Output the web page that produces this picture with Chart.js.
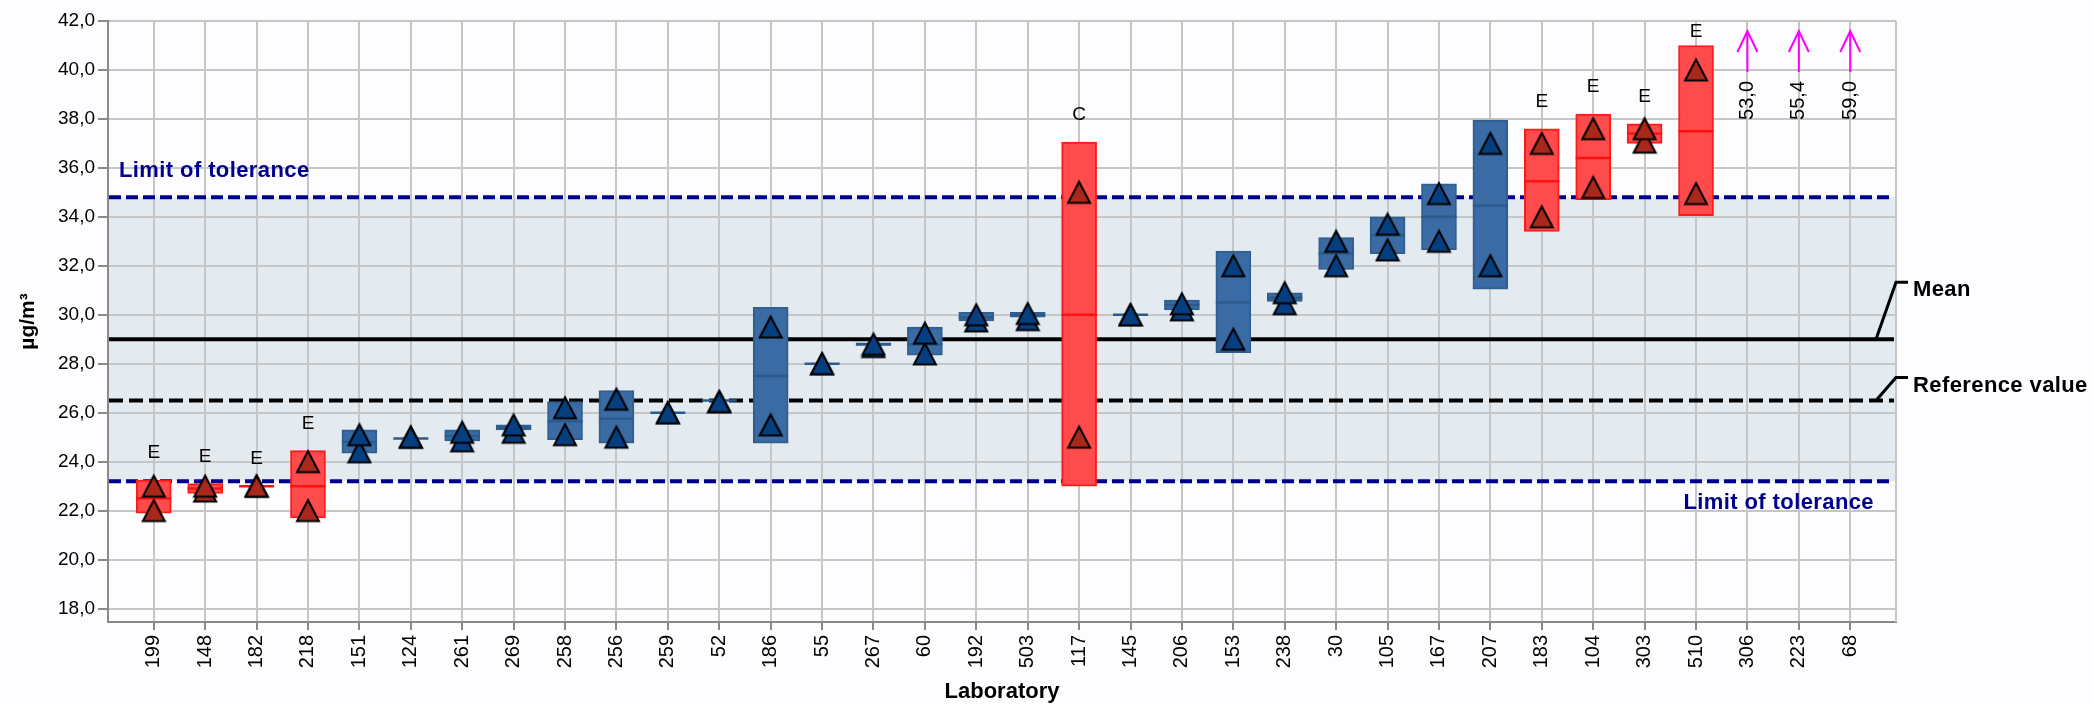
<!DOCTYPE html>
<html>
<head>
<meta charset="utf-8">
<script src="https://cdn.jsdelivr.net/npm/chart.js@4.4.0/dist/chart.umd.min.js"></script>
<style>
  html, body { margin: 0; padding: 0; background: #fdfcfe; }
  #wrap { width: 2094px; height: 706px; position: relative; }
</style>
</head>
<body>
<div id="wrap"><canvas id="chart"></canvas></div>
<script>
/* ===========================
   DATA
=========================== */

const labs = ["199","148","182","218","151","124","261","269","258","256","259","52","186","55","267","60","192","503","117","145","206","153","238","30","105","167","207","183","104","303","510","306","223","68"];

// the two replicate results of each lab
const rep1 = [22.0,22.8,23.0,22.0,24.4,25.0,24.85,25.2,25.1,25.0,26.0,26.45,25.5,28.0,28.7,28.4,29.75,29.8,25.0,30.0,30.2,29.0,30.45,32.0,32.65,33.0,32.0,34.0,35.2,37.05,34.95,null,null,null];
const rep2 = [23.0,23.0,23.0,24.0,25.1,25.0,25.2,25.5,26.2,26.55,26.0,26.45,29.5,28.0,28.8,29.25,30.0,30.05,35.0,30.0,30.45,32.0,30.9,33.0,33.7,34.95,37.0,37.0,37.6,37.6,40.0,null,null,null];

// boxes
const boxLow = [21.9,22.7,23.0,21.7,24.35,24.95,24.85,25.3,24.9,24.75,26.0,26.5,24.75,28.0,28.75,28.35,29.75,29.9,23.0,30.0,30.2,28.45,30.55,31.85,32.5,32.65,31.05,33.4,34.7,37.0,34.05,null,null,null];
const boxHigh = [23.25,23.1,23.0,24.45,25.3,24.95,25.3,25.5,26.45,26.9,26.0,26.5,30.3,28.0,28.85,29.5,30.1,30.1,37.05,30.0,30.6,32.6,30.9,33.15,34.0,35.35,37.95,37.6,38.2,37.8,41.0,null,null,null];
const medians = [22.5,22.9,23.0,23.0,24.8,24.95,25.05,25.4,25.65,25.75,26.0,26.5,27.5,28.0,28.8,28.8,29.9,30.0,30.0,30.0,30.4,30.5,30.7,32.5,33.25,34.0,34.45,35.45,36.4,37.4,37.5,null,null,null];

const flags = ["E","E","E","E","","","","","","","","","","","","","","","C","","","","","","","","","E","E","E","E","","",""];

// results above the axis
const offScale = [null,null,null,null,null,null,null,null,null,null,null,null,null,null,null,null,null,null,null,null,null,null,null,null,null,null,null,null,null,null,null,53.0,55.4,59.0];

const meanValue = 29.0;
const refValue = 26.5;
const tolLow = 23.2;
const tolHigh = 34.8;

const yTicks = [18,20,22,24,26,28,30,32,34,36,38,40,42];

/* ===========================
   STYLE
=========================== */

const FONT = "'Liberation Sans', Arial, sans-serif";
Chart.defaults.font.family = FONT;
Chart.defaults.color = "#000";

const NAVY = "#000090";
const GRID = "#c6c6c6";
const AXIS = "#8a8a8a";

function fmt(v){
    return v.toFixed(1).replace(".", ",");
}

function makeTriangle(fill){
    const c = document.createElement("canvas");
    c.width = 26;
    c.height = 26;
    const g = c.getContext("2d");
    g.beginPath();
    g.moveTo(13, 2.5);
    g.lineTo(24, 23.5);
    g.lineTo(2, 23.5);
    g.closePath();
    g.fillStyle = fill;
    g.fill();
    g.lineWidth = 2;
    g.strokeStyle = "#000";
    g.stroke();
    return c;
}

const triBlue = makeTriangle("#063f7f");
const triRed = makeTriangle("#a8291c");

function isFlag(ctx){
    return ctx.raw && flags[ctx.raw.x];
}

/* ===========================
   DATASETS
=========================== */

const boxData = [];
const medData = [];
const r1Data = [];
const r2Data = [];

labs.forEach((lab, i) => {
    if(boxLow[i] !== null){
        boxData.push({ x: i, y: [boxLow[i], boxHigh[i]] });
        medData.push({ x: i, y: medians[i] });
    }
    if(rep1[i] !== null) r1Data.push({ x: i, y: rep1[i] });
    if(rep2[i] !== null) r2Data.push({ x: i, y: rep2[i] });
});

/* ===========================
   PLUGIN: bands, lines, labels
=========================== */

const decor = {
    id: "decor",

    beforeDraw(chart){
        const { ctx, chartArea: a, scales: { y } } = chart;
        ctx.save();
        ctx.fillStyle = "#fdfcff";
        ctx.fillRect(a.left, a.top, a.right - a.left, a.bottom - a.top);
        const t = y.getPixelForValue(tolHigh);
        const b = y.getPixelForValue(tolLow);
        ctx.fillStyle = "#e3eaf0";
        ctx.fillRect(a.left, t, a.right - a.left, b - t);
        ctx.restore();
    },

    beforeDatasetsDraw(chart){
        const { ctx, chartArea: a, scales: { y } } = chart;
        ctx.save();

        // right frame
        ctx.strokeStyle = GRID;
        ctx.lineWidth = 2;
        ctx.beginPath();
        ctx.moveTo(a.right, a.top);
        ctx.lineTo(a.right, a.bottom);
        ctx.stroke();

        const hline = (v, color, dash) => {
            const py = y.getPixelForValue(v);
            ctx.strokeStyle = color;
            ctx.lineWidth = 4;
            ctx.setLineDash(dash);
            ctx.beginPath();
            ctx.moveTo(a.left + 1, py);
            ctx.lineTo(a.right - 2, py);
            ctx.stroke();
        };

        hline(tolHigh, NAVY, [12, 5]);
        hline(tolLow, NAVY, [12, 5]);
        hline(refValue, "#000", [14, 6]);
        hline(meanValue, "#000", []);
        ctx.setLineDash([]);

        ctx.fillStyle = NAVY;
        ctx.font = "bold 22px " + FONT;
        ctx.letterSpacing = "0.4px";
        ctx.textBaseline = "middle";
        ctx.textAlign = "left";
        ctx.fillText("Limit of tolerance", a.left + 11, y.getPixelForValue(tolHigh) - 26);
        ctx.textAlign = "right";
        ctx.fillText("Limit of tolerance", a.right - 22, y.getPixelForValue(tolLow) + 22);

        ctx.restore();
    },

    afterDatasetsDraw(chart){
        const { ctx, chartArea: a, scales: { x, y } } = chart;
        ctx.save();

        // E / C marks
        ctx.fillStyle = "#000";
        ctx.font = "19px " + FONT;
        ctx.textAlign = "center";
        ctx.textBaseline = "middle";
        labs.forEach((lab, i) => {
            if(!flags[i]) return;
            const py = Math.max(y.getPixelForValue(boxHigh[i]) - 27, a.top + 11);
            ctx.fillText(flags[i], x.getPixelForValue(i), py);
        });

        // arrows for results above the scale
        labs.forEach((lab, i) => {
            if(offScale[i] === null) return;
            const px = x.getPixelForValue(i);
            const top = a.top + 10;
            ctx.strokeStyle = "#ff00ff";
            ctx.lineWidth = 2;
            ctx.beginPath();
            ctx.moveTo(px, top + 41);
            ctx.lineTo(px, top);
            ctx.moveTo(px - 10, top + 21);
            ctx.lineTo(px, top);
            ctx.lineTo(px + 10, top + 21);
            ctx.stroke();

            ctx.save();
            ctx.translate(px, top + 50);
            ctx.rotate(-Math.PI / 2);
            ctx.fillStyle = "#000";
            ctx.font = "20px " + FONT;
            ctx.textAlign = "right";
            ctx.textBaseline = "middle";
            ctx.fillText(fmt(offScale[i]), 0, 0);
            ctx.restore();
        });

        ctx.restore();
    },

    afterDraw(chart){
        const { ctx, chartArea: a, scales: { y } } = chart;
        ctx.save();
        ctx.strokeStyle = "#000";
        ctx.fillStyle = "#000";
        ctx.lineWidth = 3;
        ctx.font = "bold 22px " + FONT;
        ctx.letterSpacing = "0.4px";
        ctx.textAlign = "left";
        ctx.textBaseline = "middle";

        const leader = (v, rise, text) => {
            const py = y.getPixelForValue(v);
            ctx.beginPath();
            ctx.moveTo(a.right - 20, py);
            ctx.lineTo(a.right, py - rise);
            ctx.lineTo(a.right + 12, py - rise);
            ctx.stroke();
            ctx.fillText(text, a.right + 17, py - rise + 8);
        };

        leader(meanValue, 57, "Mean");
        leader(refValue, 23, "Reference value");
        ctx.restore();
    }
};

/* ===========================
   CHART
=========================== */

new Chart(document.getElementById("chart"), {
    type: "scatter",
    data: {
        datasets: [
            {
                type: "scatter",
                label: "Replicate 2",
                data: r2Data,
                order: 0,
                pointStyle: ctx => isFlag(ctx) ? triRed : triBlue,
                pointRadius: 12
            },
            {
                type: "scatter",
                label: "Replicate 1",
                data: r1Data,
                order: 1,
                pointStyle: ctx => isFlag(ctx) ? triRed : triBlue,
                pointRadius: 12
            },
            {
                type: "scatter",
                label: "Median",
                data: medData,
                order: 2,
                pointStyle: "line",
                pointRadius: 17.5,
                pointBorderWidth: 2.5,
                pointBorderColor: ctx => isFlag(ctx) ? "#ff1010" : "#2b5b8c"
            },
            {
                type: "bar",
                label: "Range",
                data: boxData,
                order: 3,
                barThickness: 35,
                borderWidth: 2,
                borderSkipped: false,
                backgroundColor: ctx => isFlag(ctx) ? "#ff4b4b" : "#3b6ba4",
                borderColor: ctx => isFlag(ctx) ? "#ff1a1a" : "#2e5f8f"
            }
        ]
    },
    options: {
        responsive: true,
        maintainAspectRatio: false,
        animation: false,
        events: [],
        layout: {
            padding: { top: 21, right: 198, bottom: 0, left: 0 }
        },
        plugins: {
            legend: { display: false },
            tooltip: { enabled: false }
        },
        scales: {
            x: {
                type: "linear",
                min: -0.89,
                max: 33.89,
                offset: false,
                afterBuildTicks: s => {
                    s.ticks = labs.map((l, i) => ({ value: i }));
                },
                afterFit: s => {
                    s.height = 84;
                },
                ticks: {
                    callback: v => labs[v],
                    autoSkip: false,
                    minRotation: 90,
                    maxRotation: 90,
                    padding: 5,
                    font: { size: 20 },
                    color: "#000"
                },
                grid: {
                    offset: false,
                    color: GRID,
                    lineWidth: 2,
                    tickLength: 8,
                    tickColor: AXIS
                },
                border: { color: AXIS, width: 2 },
                title: {
                    display: true,
                    text: "Laboratory",
                    font: { size: 22, weight: "bold" },
                    color: "#000",
                    padding: { top: 0, bottom: 1 }
                }
            },
            y: {
                type: "linear",
                min: 17.45,
                max: 42,
                afterBuildTicks: s => {
                    s.ticks = yTicks.map(v => ({ value: v }));
                },
                afterFit: s => {
                    s.width = 108;
                },
                ticks: {
                    callback: v => fmt(v),
                    padding: 3,
                    font: { size: 19 },
                    color: "#000"
                },
                grid: {
                    color: GRID,
                    lineWidth: 2,
                    tickLength: 10,
                    tickColor: AXIS
                },
                border: { color: AXIS, width: 2 },
                title: {
                    display: true,
                    text: "µg/m³",
                    font: { size: 21, weight: "bold" },
                    color: "#000",
                    padding: { top: 16, bottom: 0 }
                }
            }
        }
    },
    plugins: [decor]
});
</script>
</body>
</html>
